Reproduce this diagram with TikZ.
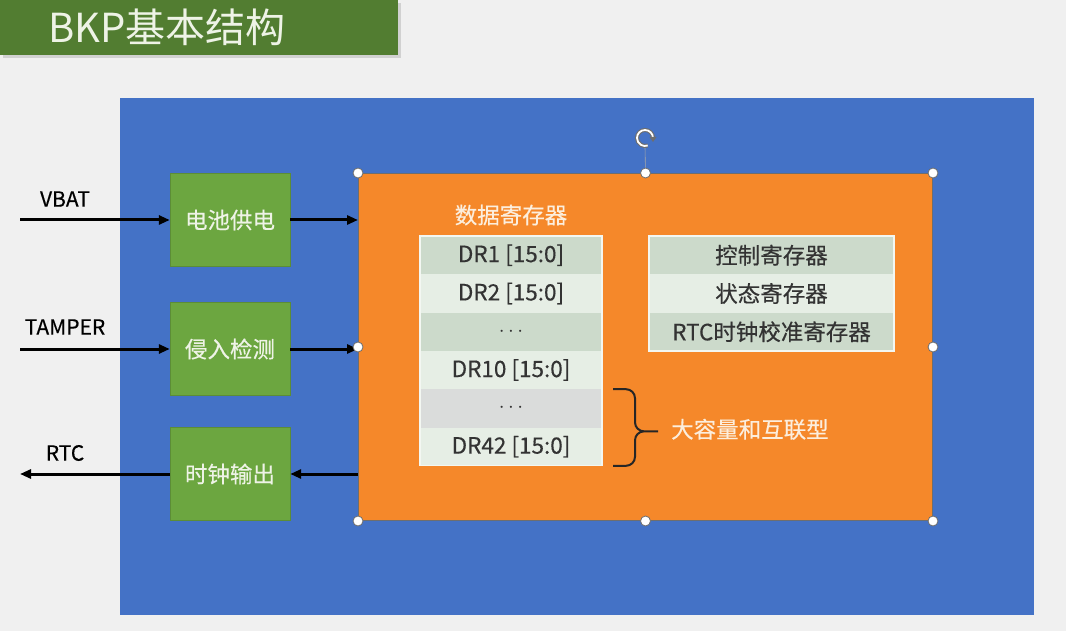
\documentclass[tikz,border=0pt]{standalone}
\usepackage{fontspec}
\setmainfont{Noto Sans CJK SC}[FakeBold=0.4]
\newfontfamily\titlefont{Noto Sans CJK SC}
\usetikzlibrary{arrows.meta,positioning,calc}
\definecolor{Paper}{HTML}{F0F0F0}
\definecolor{TitleGreen}{HTML}{527D31}
\definecolor{ChipBlue}{HTML}{4472C6}
\definecolor{BlkGreen}{HTML}{6CA640}
\definecolor{BlkText}{HTML}{EEF3E6}
\definecolor{RegOrange}{HTML}{F5882A}
\definecolor{RegText}{HTML}{FCEEDD}
\definecolor{RowDark}{HTML}{CCDACB}
\definecolor{RowLight}{HTML}{E6EEE5}
\definecolor{RowGray}{HTML}{DADCDB}
\definecolor{RowText}{HTML}{333333}
\definecolor{Handle}{HTML}{6E6E6E}

\begin{document}
\begin{tikzpicture}[x=1pt,y=-1pt,
    blk/.style={draw=BlkGreen!85!black,fill=BlkGreen,minimum width=120pt,
      minimum height=93pt,inner sep=0pt,text=BlkText,font=\fontsize{22.5}{26}\selectfont},
    row/.style={minimum height=38.3pt,inner sep=0pt,outer sep=0pt,text=RowText,
      font=\fontsize{22.5}{26}\selectfont},
    lrow/.style={row,minimum width=182pt},
    rrow/.style={row,minimum width=245pt},
    lbl/.style={inner sep=0pt,font=\fontsize{21}{24}\selectfont,text=black},
    arr/.style={-{Triangle[length=11pt,width=9pt]},line width=3pt,black},
    handle/.style={circle,draw=Handle,fill=white,line width=0.8pt,inner sep=0pt,minimum size=10pt}
  ]
    \fill[Paper] (0,0) rectangle (1066,631);
    \useasboundingbox (0,0) rectangle (1066,631);
    % title bar
    \fill[black!18] (3,3) rectangle (401,58);
    \fill[TitleGreen] (0,0) rectangle (398,55);
    \node[anchor=west,inner sep=0pt,text=BlkText,font=\titlefont\fontsize{40}{44}\selectfont] (title) at (48,27) {BKP基本结构};
    % backup domain
    \node[fill=ChipBlue,anchor=north west,minimum width=914pt,minimum height=517pt,inner sep=0pt] (bkp) at (120,98) {};
    \node[blk] (power) at (230,220) {电池供电};
    \node[blk] (tamper) at (230,349) {侵入检测};
    \node[blk] (clkout) at (230,474) {时钟输出};
    \node[fill=RegOrange,draw=Handle,line width=1pt,anchor=north west,minimum width=574pt,
      minimum height=347pt,inner sep=0pt] (regs) at (358,173) {};
    % pins
    \coordinate (vbat) at (20,220);
    \coordinate (tamp) at (20,349);
    \coordinate (rtc) at (20,474);
    \node[lbl] (vbatlbl) at (65,199) {VBAT};
    \node[lbl] (tamplbl) at (65,327) {TAMPER};
    \node[lbl] (rtclbl) at (65,453) {RTC};
    \draw[arr] (vbat) -- (power);
    \draw[arr] (tamp) -- (tamper);
    \draw[arr] (clkout) -- (rtc);
    \draw[arr] (power.east) -- (power.east -| regs.west);
    \draw[arr] (tamper.east) -- (tamper.east -| regs.west);
    \draw[arr] (clkout.east -| regs.west) -- (clkout.east);
    % data registers
    \node[text=RegText,inner sep=0pt,font=\fontsize{22.5}{26}\selectfont] (datalbl) at (511,215) {数据寄存器};
    \node[lrow,fill=RowDark,anchor=north west] (dr1) at (420,236) {DR1 [15:0]};
    \node[lrow,fill=RowLight,below=0pt of dr1] (dr2) {DR2 [15:0]};
    \node[lrow,fill=RowDark,below=0pt of dr2] (dots1) {$\cdots$};
    \node[lrow,fill=RowLight,below=0pt of dots1] (dr10) {DR10 [15:0]};
    \node[lrow,fill=RowGray,below=0pt of dr10] (dots2) {$\cdots$};
    \node[lrow,fill=RowLight,below=0pt of dots2] (dr42) {DR42 [15:0]};
    \draw[RowLight!50!white,line width=1.2pt] (dr1.north west) rectangle (dr42.south east);
    % control registers
    \node[rrow,fill=RowDark,anchor=north west] (cr) at (649,236) {控制寄存器};
    \node[rrow,fill=RowLight,below=0pt of cr] (sr) {状态寄存器};
    \node[rrow,fill=RowDark,below=0pt of sr] (rtccal) {RTC时钟校准寄存器};
    \draw[RowLight!50!white,line width=1.2pt] (cr.north west) rectangle (rtccal.south east);
    % high-density part
    \coordinate (btop) at ($(dots2.north east)+(11,0)$);
    \coordinate (bbot) at ($(dr42.south east)+(11,0)$);
    \coordinate (btip) at ($(btop)!0.55!(bbot)+(45,0)$);
    \draw[rounded corners=9pt,line width=2pt,black!85]
      (btop) -- ++(22,0) |- (btip)
      (bbot) -- ++(22,0) |- (btip);
    \node[anchor=west,text=RegText,inner sep=0pt,font=\fontsize{22.5}{26}\selectfont] (hd) at ($(btip)+(13,-2)$) {大容量和互联型};
    % selection handles
    \foreach \p [count=\i] in {north west,north,north east,east,south east,south,south west,west}
      \node[handle] (h\i) at (regs.\p) {};
    \node[circle,inner sep=0pt,minimum size=18pt] (rot) at (645,138) {};
    \draw[Handle!60,line width=0.6pt] (rot.south) -- (h2);
    \draw[Handle,line width=4pt] (rot.center) ++(8,0) arc (0:290:8pt);
    \draw[white,line width=1.8pt] (rot.center) ++(8,0) arc (0:290:8pt);
    \fill[Handle] ($(rot.center)+(4.5,-1)$) -- ($(rot.center)+(11.5,-1)$) -- ($(rot.center)+(8,4)$) -- cycle;
  \end{tikzpicture}
\end{document}
